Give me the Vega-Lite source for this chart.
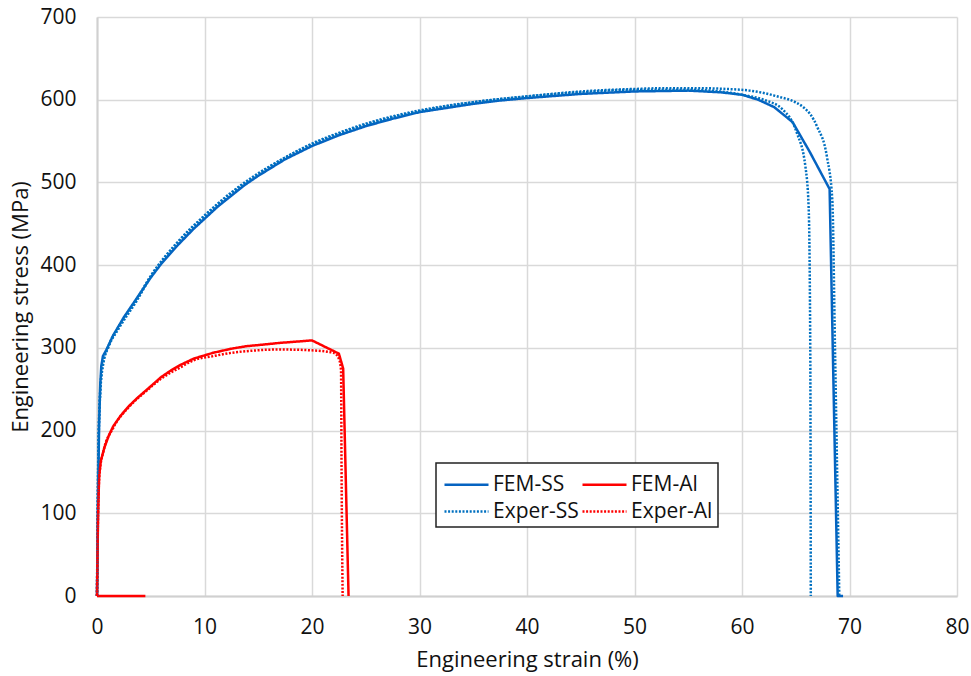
{
  "$schema": "https://vega.github.io/schema/vega-lite/v6.json",
  "width": 860,
  "height": 579,
  "autosize": {"type": "none"},
  "padding": {"left": 97, "top": 17, "right": 14, "bottom": 80},
  "background": "white",
  "config": {
    "view": {"stroke": null},
    "font": "Open Sans",
    "axis": {
      "grid": true,
      "gridColor": "#d9d9d9",
      "gridWidth": 1.5,
      "domainColor": "#d0d0d0",
      "domainWidth": 2,
      "ticks": false,
      "labelFlush": false,
      "labelFontSize": 21,
      "labelColor": "#111111",
      "titleFontSize": 22,
      "titleFontWeight": "normal",
      "titleColor": "#111111"
    },
    "legend": {
      "orient": "none",
      "legendX": 339,
      "legendY": 446,
      "columns": 2,
      "direction": "horizontal",
      "title": null,
      "fillColor": "white",
      "strokeColor": "#222222",
      "strokeWidth": 1.5,
      "padding": 5,
      "labelFontSize": 21,
      "labelColor": "#111111",
      "symbolType": "M-0.867,0H2.067",
      "symbolSize": 900,
      "symbolStrokeWidth": 2.5,
      "labelOffset": 19,
      "columnPadding": -6,
      "rowPadding": 0
    }
  },
  "datasets": {
    "curves": [
      {"s": "FEM-SS", "r": "a", "i": 1, "x": 0, "y": 0},
      {"s": "FEM-SS", "r": "a", "i": 2, "x": 0.1, "y": 120},
      {"s": "FEM-SS", "r": "a", "i": 3, "x": 0.2, "y": 210},
      {"s": "FEM-SS", "r": "a", "i": 4, "x": 0.3, "y": 255},
      {"s": "FEM-SS", "r": "a", "i": 5, "x": 0.4, "y": 278},
      {"s": "FEM-SS", "r": "a", "i": 6, "x": 0.55, "y": 290},
      {"s": "FEM-SS", "r": "a", "i": 7, "x": 0.85, "y": 297},
      {"s": "FEM-SS", "r": "a", "i": 8, "x": 1.5, "y": 315},
      {"s": "FEM-SS", "r": "a", "i": 9, "x": 2.5, "y": 337},
      {"s": "FEM-SS", "r": "a", "i": 10, "x": 3.7, "y": 360},
      {"s": "FEM-SS", "r": "a", "i": 11, "x": 5, "y": 385},
      {"s": "FEM-SS", "r": "a", "i": 12, "x": 6, "y": 402},
      {"s": "FEM-SS", "r": "a", "i": 13, "x": 7.5, "y": 424},
      {"s": "FEM-SS", "r": "a", "i": 14, "x": 9, "y": 444},
      {"s": "FEM-SS", "r": "a", "i": 15, "x": 10, "y": 456},
      {"s": "FEM-SS", "r": "a", "i": 16, "x": 11.25, "y": 471},
      {"s": "FEM-SS", "r": "a", "i": 17, "x": 12.5, "y": 484},
      {"s": "FEM-SS", "r": "a", "i": 18, "x": 13.75, "y": 497},
      {"s": "FEM-SS", "r": "a", "i": 19, "x": 15, "y": 508},
      {"s": "FEM-SS", "r": "a", "i": 20, "x": 17.5, "y": 528},
      {"s": "FEM-SS", "r": "a", "i": 21, "x": 20, "y": 544},
      {"s": "FEM-SS", "r": "a", "i": 22, "x": 22.5, "y": 557},
      {"s": "FEM-SS", "r": "a", "i": 23, "x": 25, "y": 568},
      {"s": "FEM-SS", "r": "a", "i": 24, "x": 27.5, "y": 577},
      {"s": "FEM-SS", "r": "a", "i": 25, "x": 30, "y": 585},
      {"s": "FEM-SS", "r": "a", "i": 26, "x": 32.5, "y": 590},
      {"s": "FEM-SS", "r": "a", "i": 27, "x": 35, "y": 595},
      {"s": "FEM-SS", "r": "a", "i": 28, "x": 37.5, "y": 599},
      {"s": "FEM-SS", "r": "a", "i": 29, "x": 40, "y": 602},
      {"s": "FEM-SS", "r": "a", "i": 30, "x": 45, "y": 607},
      {"s": "FEM-SS", "r": "a", "i": 31, "x": 50, "y": 610},
      {"s": "FEM-SS", "r": "a", "i": 32, "x": 55, "y": 611},
      {"s": "FEM-SS", "r": "a", "i": 33, "x": 58, "y": 609},
      {"s": "FEM-SS", "r": "a", "i": 34, "x": 60, "y": 606},
      {"s": "FEM-SS", "r": "a", "i": 35, "x": 61.5, "y": 600},
      {"s": "FEM-SS", "r": "a", "i": 36, "x": 63, "y": 591},
      {"s": "FEM-SS", "r": "a", "i": 37, "x": 64.7, "y": 573},
      {"s": "FEM-SS", "r": "a", "i": 38, "x": 66.3, "y": 537},
      {"s": "FEM-SS", "r": "a", "i": 39, "x": 68.15, "y": 492},
      {"s": "FEM-SS", "r": "a", "i": 40, "x": 68.9, "y": 0},
      {"s": "FEM-SS", "r": "a", "i": 41, "x": 69.4, "y": 0},

      {"s": "Exper-SS", "r": "b", "i": 1, "x": 0, "y": 0},
      {"s": "Exper-SS", "r": "b", "i": 2, "x": 0.1, "y": 150},
      {"s": "Exper-SS", "r": "b", "i": 3, "x": 0.25, "y": 235},
      {"s": "Exper-SS", "r": "b", "i": 4, "x": 0.5, "y": 278},
      {"s": "Exper-SS", "r": "b", "i": 5, "x": 1, "y": 300},
      {"s": "Exper-SS", "r": "b", "i": 6, "x": 2, "y": 325},
      {"s": "Exper-SS", "r": "b", "i": 7, "x": 3.7, "y": 359},
      {"s": "Exper-SS", "r": "b", "i": 8, "x": 5, "y": 387},
      {"s": "Exper-SS", "r": "b", "i": 9, "x": 7.5, "y": 428},
      {"s": "Exper-SS", "r": "b", "i": 10, "x": 10, "y": 460},
      {"s": "Exper-SS", "r": "b", "i": 11, "x": 12.5, "y": 488},
      {"s": "Exper-SS", "r": "b", "i": 12, "x": 15, "y": 511},
      {"s": "Exper-SS", "r": "b", "i": 13, "x": 17.5, "y": 530},
      {"s": "Exper-SS", "r": "b", "i": 14, "x": 20, "y": 547},
      {"s": "Exper-SS", "r": "b", "i": 15, "x": 22.5, "y": 560},
      {"s": "Exper-SS", "r": "b", "i": 16, "x": 25, "y": 571},
      {"s": "Exper-SS", "r": "b", "i": 17, "x": 30, "y": 587},
      {"s": "Exper-SS", "r": "b", "i": 18, "x": 35, "y": 597},
      {"s": "Exper-SS", "r": "b", "i": 19, "x": 40, "y": 604},
      {"s": "Exper-SS", "r": "b", "i": 20, "x": 45, "y": 609},
      {"s": "Exper-SS", "r": "b", "i": 21, "x": 50, "y": 612},
      {"s": "Exper-SS", "r": "b", "i": 22, "x": 55, "y": 612},
      {"s": "Exper-SS", "r": "b", "i": 23, "x": 58, "y": 610},
      {"s": "Exper-SS", "r": "b", "i": 24, "x": 60, "y": 606},
      {"s": "Exper-SS", "r": "b", "i": 25, "x": 62, "y": 600},
      {"s": "Exper-SS", "r": "b", "i": 26, "x": 63.8, "y": 588},
      {"s": "Exper-SS", "r": "b", "i": 27, "x": 65.1, "y": 560},
      {"s": "Exper-SS", "r": "b", "i": 28, "x": 65.9, "y": 519},
      {"s": "Exper-SS", "r": "b", "i": 29, "x": 66.2, "y": 470},
      {"s": "Exper-SS", "r": "b", "i": 30, "x": 66.35, "y": 300},
      {"s": "Exper-SS", "r": "b", "i": 31, "x": 66.4, "y": 0},

      {"s": "Exper-SS", "r": "c", "i": 1, "x": 0, "y": 0},
      {"s": "Exper-SS", "r": "c", "i": 2, "x": 0.12, "y": 160},
      {"s": "Exper-SS", "r": "c", "i": 3, "x": 0.3, "y": 245},
      {"s": "Exper-SS", "r": "c", "i": 4, "x": 0.6, "y": 282},
      {"s": "Exper-SS", "r": "c", "i": 5, "x": 1.1, "y": 302},
      {"s": "Exper-SS", "r": "c", "i": 6, "x": 2, "y": 323},
      {"s": "Exper-SS", "r": "c", "i": 7, "x": 3.7, "y": 357},
      {"s": "Exper-SS", "r": "c", "i": 8, "x": 5, "y": 386},
      {"s": "Exper-SS", "r": "c", "i": 9, "x": 7.5, "y": 427},
      {"s": "Exper-SS", "r": "c", "i": 10, "x": 10, "y": 459},
      {"s": "Exper-SS", "r": "c", "i": 11, "x": 12.5, "y": 487},
      {"s": "Exper-SS", "r": "c", "i": 12, "x": 15, "y": 510},
      {"s": "Exper-SS", "r": "c", "i": 13, "x": 17.5, "y": 530},
      {"s": "Exper-SS", "r": "c", "i": 14, "x": 20, "y": 546},
      {"s": "Exper-SS", "r": "c", "i": 15, "x": 22.5, "y": 559},
      {"s": "Exper-SS", "r": "c", "i": 16, "x": 25, "y": 570},
      {"s": "Exper-SS", "r": "c", "i": 17, "x": 30, "y": 586},
      {"s": "Exper-SS", "r": "c", "i": 18, "x": 35, "y": 597},
      {"s": "Exper-SS", "r": "c", "i": 19, "x": 40, "y": 604},
      {"s": "Exper-SS", "r": "c", "i": 20, "x": 45, "y": 610},
      {"s": "Exper-SS", "r": "c", "i": 21, "x": 50, "y": 613},
      {"s": "Exper-SS", "r": "c", "i": 22, "x": 53, "y": 614},
      {"s": "Exper-SS", "r": "c", "i": 23, "x": 56, "y": 614},
      {"s": "Exper-SS", "r": "c", "i": 24, "x": 58.5, "y": 613},
      {"s": "Exper-SS", "r": "c", "i": 25, "x": 60.7, "y": 611},
      {"s": "Exper-SS", "r": "c", "i": 26, "x": 63, "y": 605},
      {"s": "Exper-SS", "r": "c", "i": 27, "x": 65.7, "y": 591},
      {"s": "Exper-SS", "r": "c", "i": 28, "x": 67, "y": 567},
      {"s": "Exper-SS", "r": "c", "i": 29, "x": 67.9, "y": 531},
      {"s": "Exper-SS", "r": "c", "i": 30, "x": 68.4, "y": 479},
      {"s": "Exper-SS", "r": "c", "i": 31, "x": 68.65, "y": 300},
      {"s": "Exper-SS", "r": "c", "i": 32, "x": 68.85, "y": 150},
      {"s": "Exper-SS", "r": "c", "i": 33, "x": 69.05, "y": 0},

      {"s": "FEM-Al", "r": "f", "i": 1, "x": 0, "y": 0},
      {"s": "FEM-Al", "r": "f", "i": 2, "x": 4.5, "y": 0},

      {"s": "FEM-Al", "r": "d", "i": 2, "x": 0, "y": 0},
      {"s": "FEM-Al", "r": "d", "i": 3, "x": 0.1, "y": 100},
      {"s": "FEM-Al", "r": "d", "i": 4, "x": 0.2, "y": 145},
      {"s": "FEM-Al", "r": "d", "i": 5, "x": 0.35, "y": 163},
      {"s": "FEM-Al", "r": "d", "i": 6, "x": 0.7, "y": 180},
      {"s": "FEM-Al", "r": "d", "i": 7, "x": 1.1, "y": 194},
      {"s": "FEM-Al", "r": "d", "i": 8, "x": 1.5, "y": 205},
      {"s": "FEM-Al", "r": "d", "i": 9, "x": 2.2, "y": 218},
      {"s": "FEM-Al", "r": "d", "i": 10, "x": 3, "y": 230},
      {"s": "FEM-Al", "r": "d", "i": 11, "x": 3.8, "y": 240},
      {"s": "FEM-Al", "r": "d", "i": 12, "x": 4.6, "y": 249},
      {"s": "FEM-Al", "r": "d", "i": 13, "x": 5.3, "y": 257},
      {"s": "FEM-Al", "r": "d", "i": 14, "x": 6, "y": 265},
      {"s": "FEM-Al", "r": "d", "i": 15, "x": 6.8, "y": 272},
      {"s": "FEM-Al", "r": "d", "i": 16, "x": 7.7, "y": 279},
      {"s": "FEM-Al", "r": "d", "i": 17, "x": 9, "y": 287},
      {"s": "FEM-Al", "r": "d", "i": 18, "x": 10.8, "y": 294},
      {"s": "FEM-Al", "r": "d", "i": 19, "x": 12.5, "y": 299},
      {"s": "FEM-Al", "r": "d", "i": 20, "x": 13.9, "y": 302},
      {"s": "FEM-Al", "r": "d", "i": 21, "x": 15.5, "y": 304},
      {"s": "FEM-Al", "r": "d", "i": 22, "x": 17, "y": 306},
      {"s": "FEM-Al", "r": "d", "i": 23, "x": 18.5, "y": 307.5},
      {"s": "FEM-Al", "r": "d", "i": 24, "x": 20, "y": 309},
      {"s": "FEM-Al", "r": "d", "i": 25, "x": 22.5, "y": 293},
      {"s": "FEM-Al", "r": "d", "i": 26, "x": 22.9, "y": 275},
      {"s": "FEM-Al", "r": "d", "i": 27, "x": 23.4, "y": 0},

      {"s": "Exper-Al", "r": "e", "i": 1, "x": 0, "y": 0},
      {"s": "Exper-Al", "r": "e", "i": 2, "x": 0.1, "y": 100},
      {"s": "Exper-Al", "r": "e", "i": 3, "x": 0.25, "y": 150},
      {"s": "Exper-Al", "r": "e", "i": 4, "x": 0.6, "y": 175},
      {"s": "Exper-Al", "r": "e", "i": 5, "x": 1.5, "y": 203},
      {"s": "Exper-Al", "r": "e", "i": 6, "x": 3, "y": 229},
      {"s": "Exper-Al", "r": "e", "i": 7, "x": 4.6, "y": 248},
      {"s": "Exper-Al", "r": "e", "i": 8, "x": 6, "y": 263},
      {"s": "Exper-Al", "r": "e", "i": 9, "x": 7.7, "y": 276},
      {"s": "Exper-Al", "r": "e", "i": 10, "x": 9, "y": 285},
      {"s": "Exper-Al", "r": "e", "i": 11, "x": 10.8, "y": 290},
      {"s": "Exper-Al", "r": "e", "i": 12, "x": 12.5, "y": 294},
      {"s": "Exper-Al", "r": "e", "i": 13, "x": 13.9, "y": 296},
      {"s": "Exper-Al", "r": "e", "i": 14, "x": 15.5, "y": 297.5},
      {"s": "Exper-Al", "r": "e", "i": 15, "x": 17, "y": 298},
      {"s": "Exper-Al", "r": "e", "i": 16, "x": 20, "y": 297},
      {"s": "Exper-Al", "r": "e", "i": 17, "x": 22, "y": 294},
      {"s": "Exper-Al", "r": "e", "i": 18, "x": 22.5, "y": 287},
      {"s": "Exper-Al", "r": "e", "i": 19, "x": 22.7, "y": 273},
      {"s": "Exper-Al", "r": "e", "i": 20, "x": 22.75, "y": 150},
      {"s": "Exper-Al", "r": "e", "i": 21, "x": 22.85, "y": 0}
    ]
  },
  "layer": [
    {
      "data": {"name": "curves"},
      "encoding": {
        "x": {
          "field": "x",
          "type": "quantitative",
          "scale": {"domain": [0, 80], "nice": false},
          "axis": {
            "title": "Engineering strain (%)",
            "values": [0, 10, 20, 30, 40, 50, 60, 70, 80],
            "labelPadding": 20,
            "titlePadding": 12
          }
        },
        "y": {
          "field": "y",
          "type": "quantitative",
          "scale": {"domain": [0, 700], "nice": false},
          "axis": {
            "title": "Engineering stress (MPa)",
            "values": [0, 100, 200, 300, 400, 500, 600, 700],
            "labelPadding": 21,
            "titlePadding": 7
          }
        },
        "color": {
          "field": "s",
          "type": "nominal",
          "scale": {
            "domain": ["FEM-SS", "FEM-Al", "Exper-SS", "Exper-Al"],
            "range": ["#0563C1", "#FF0000", "#0070C0", "#FF0000"]
          }
        },
        "strokeDash": {
          "field": "s",
          "type": "nominal",
          "scale": {
            "domain": ["FEM-SS", "FEM-Al", "Exper-SS", "Exper-Al"],
            "range": [[1, 0], [1, 0], [2, 1.6], [2, 1.6]]
          }
        },
        "detail": {"field": "r", "type": "nominal"},
        "order": {"field": "i", "type": "quantitative"}
      },
      "layer": [
        {
          "transform": [{"filter": "indexof(datum.s, 'FEM') === 0"}],
          "mark": {"type": "line", "strokeWidth": 2.5, "strokeJoin": "round"}
        },
        {
          "transform": [{"filter": "indexof(datum.s, 'Exper') === 0"}],
          "mark": {"type": "line", "strokeWidth": 2.5, "strokeJoin": "round", "interpolate": "monotone"}
        }
      ]
    },
    {
      "mark": {"type": "rule", "color": "#000000", "strokeWidth": 1.5, "strokeDash": [1.5, 1.5]},
      "encoding": {
        "x": {"datum": 0, "type": "quantitative"},
        "x2": {"datum": 80},
        "y": {"datum": 700, "type": "quantitative"}
      }
    },
    {
      "mark": {"type": "rule", "color": "#000000", "strokeWidth": 1.5, "strokeDash": [1.5, 1.5]},
      "encoding": {
        "x": {"datum": 80, "type": "quantitative"},
        "y": {"datum": 0, "type": "quantitative"},
        "y2": {"datum": 700}
      }
    }
  ]
}
